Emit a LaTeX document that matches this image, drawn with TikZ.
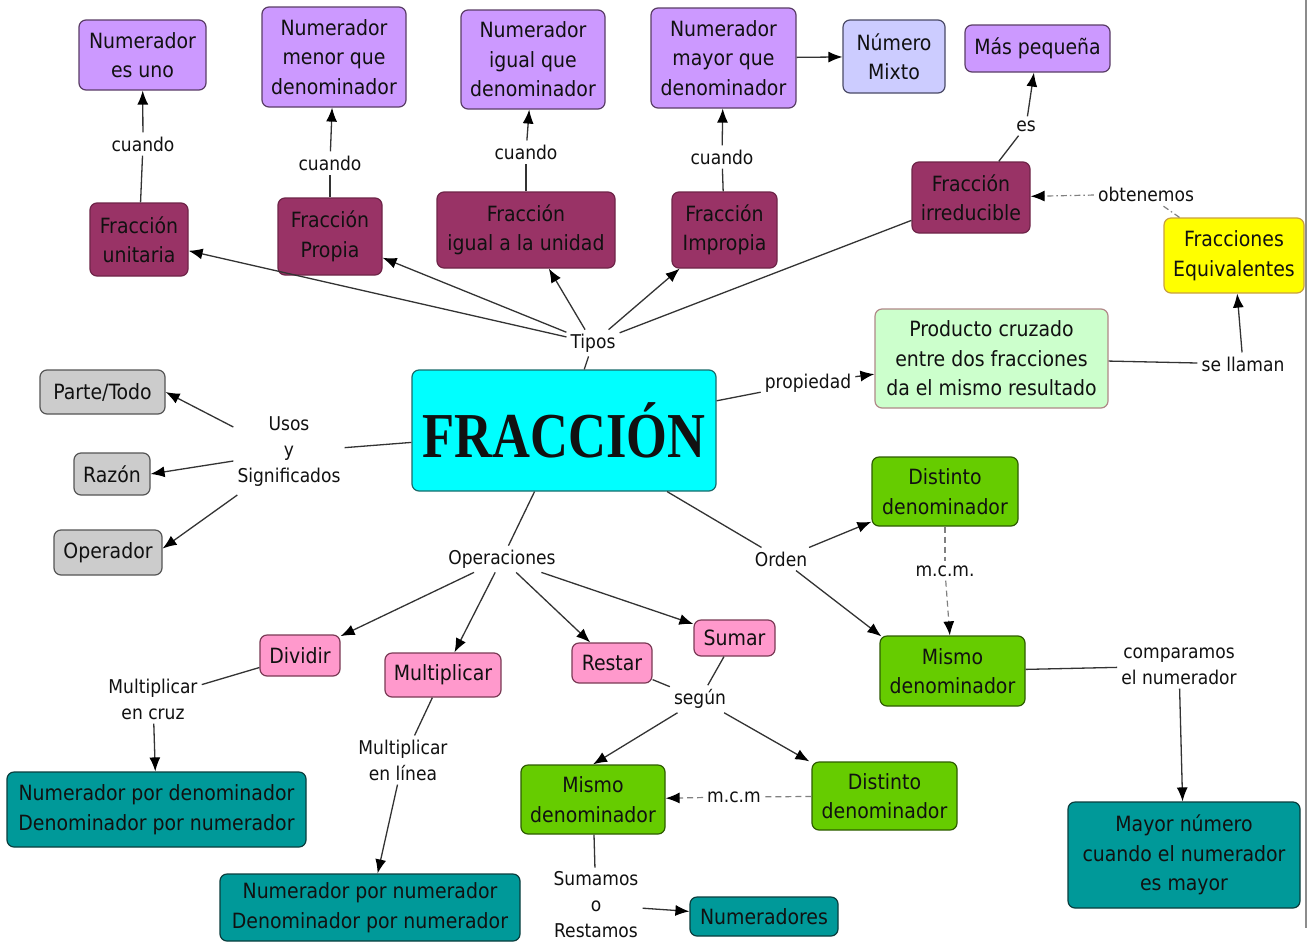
\documentclass[tikz,border=0pt]{standalone}
\usepackage{fontspec}
\usepackage{graphicx}
\setmainfont{DejaVu Sans Condensed}
\newfontfamily\bigserif{Liberation Serif}
\usetikzlibrary{arrows.meta}
\definecolor{cpurp}{HTML}{CC99FF}
\definecolor{dpurp}{HTML}{5A3D66}
\definecolor{cmag}{HTML}{993366}
\definecolor{dmag}{HTML}{6E2448}
\definecolor{cmix}{HTML}{CCCCFF}
\definecolor{dmix}{HTML}{4A4A66}
\definecolor{cyel}{HTML}{FFFF00}
\definecolor{dyel}{HTML}{C8A040}
\definecolor{clgr}{HTML}{CCFFCC}
\definecolor{dlgr}{HTML}{B08888}
\definecolor{cgry}{HTML}{CCCCCC}
\definecolor{dgry}{HTML}{555555}
\definecolor{cpnk}{HTML}{FF99CC}
\definecolor{dpnk}{HTML}{7A3A55}
\definecolor{cgrn}{HTML}{66CC00}
\definecolor{dgrn}{HTML}{2E5C00}
\definecolor{ctea}{HTML}{009999}
\definecolor{dtea}{HTML}{0A3D3D}
\definecolor{ccya}{HTML}{00FFFF}
\definecolor{dcya}{HTML}{1A6B6B}
\definecolor{txt}{HTML}{111111}
\tikzset{
  box/.style={draw, rounded corners=7pt, line width=1.2pt, align=center, inner sep=0pt,
    font=\fontsize{21}{29.5}\selectfont, text=txt},
  purp/.style={box, fill=cpurp, draw=dpurp},
  mag/.style={box, fill=cmag, draw=dmag},
  mix/.style={box, fill=cmix, draw=dmix},
  yel/.style={box, fill=cyel, draw=dyel},
  lgr/.style={box, fill=clgr, draw=dlgr},
  gry/.style={box, fill=cgry, draw=dgry},
  pnk/.style={box, fill=cpnk, draw=dpnk},
  grn/.style={box, fill=cgrn, draw=dgrn},
  tea/.style={box, fill=ctea, draw=dtea},
  lbl/.style={align=center, inner sep=4pt, font=\fontsize{19}{26}\selectfont, text=txt},
  con/.style={line width=1.3pt, draw=black!80},
  arr/.style={con, -{Latex[length=14pt,width=11pt,color=black]}},
  dsh/.style={line width=1.2pt, draw=black!50, dash pattern=on 6pt off 4pt},
  dsharr/.style={dsh, -{Latex[length=14pt,width=11pt,color=black]}},
  dshdot/.style={line width=1.2pt, draw=black!50, dash pattern=on 6pt off 3pt on 1.5pt off 3pt},
  dshdotarr/.style={dshdot, -{Latex[length=14pt,width=11pt,color=black]}},
}
\begin{document}
\begin{tikzpicture}[x=1pt,y=-1pt]
\useasboundingbox (0,0) rectangle (1308,948);
\fill[white] (0,0) rectangle (1308,948);
\draw[black!45, line width=1.5pt] (1306,0) -- (1306,928);

% top row
\node[purp, minimum width=127, minimum height=70] (esuno) at (142.5,55) {Numerador\\es uno};
\node[purp, minimum width=144, minimum height=100] (menor) at (334,57) {Numerador\\menor que\\denominador};
\node[purp, minimum width=144, minimum height=99] (igual) at (533,59.5) {Numerador\\igual que\\denominador};
\node[purp, minimum width=145, minimum height=100] (mayor) at (723.5,58) {Numerador\\mayor que\\denominador};
\node[mix, minimum width=102, minimum height=73] (mixto) at (894,56.5) {Número\\Mixto};
\node[purp, minimum width=145, minimum height=47] (maspeq) at (1037.5,48.5) {Más pequeña};

% tipos
\node[mag, minimum width=98, minimum height=73] (unitaria) at (139,239.5) {Fracción\\unitaria};
\node[mag, minimum width=104, minimum height=77] (propia) at (330,236.5) {Fracción\\Propia};
\node[mag, minimum width=178, minimum height=76] (unidad) at (526,230) {Fracción\\igual a la unidad};
\node[mag, minimum width=105, minimum height=76] (impropia) at (724.5,230) {Fracción\\Impropia};
\node[mag, minimum width=118, minimum height=71] (irred) at (971,197.5) {Fracción\\irreducible};
\node[yel, minimum width=140, minimum height=75] (equiv) at (1234,255.5) {Fracciones\\Equivalentes};

% center
\node[box, fill=ccya, draw=dcya, minimum width=304, minimum height=121] (fraccion) at (564,430.5)
  {\scalebox{0.82}[1]{\bigserif\bfseries\fontsize{64}{64}\selectfont FRACCIÓN}};
\node[lgr, minimum width=233, minimum height=99] (producto) at (991.5,358.5) {Producto cruzado\\entre dos fracciones\\da el mismo resultado};

% usos
\node[gry, minimum width=125, minimum height=44] (parte) at (102.5,392) {Parte/Todo};
\node[gry, minimum width=76, minimum height=42] (razon) at (112,474) {Razón};
\node[gry, minimum width=108, minimum height=45] (operador) at (108,552.5) {Operador};

% orden
\node[grn, minimum width=146, minimum height=69] (dist1) at (945,491.5) {Distinto\\denominador};
\node[grn, minimum width=145, minimum height=70] (mismo1) at (952.5,671) {Mismo\\denominador};
\node[tea, minimum width=232, minimum height=106] (mayornum) at (1184,855) {Mayor número\\cuando el numerador\\es mayor};

% operaciones
\node[pnk, minimum width=80, minimum height=41] (dividir) at (300,655.5) {Dividir};
\node[pnk, minimum width=116, minimum height=44] (multi) at (443,675) {Multiplicar};
\node[pnk, minimum width=80, minimum height=40] (restar) at (612,663) {Restar};
\node[pnk, minimum width=81, minimum height=36] (sumar) at (734.5,638) {Sumar};
\node[tea, minimum width=299, minimum height=75] (nd) at (156.5,809.5) {Numerador por denominador\\Denominador por numerador};
\node[tea, minimum width=300, minimum height=67] (nn) at (370,907.5) {Numerador por numerador\\Denominador por numerador};
\node[grn, minimum width=144, minimum height=69] (mismo2) at (593,799.5) {Mismo\\denominador};
\node[grn, minimum width=145, minimum height=68] (dist2) at (884.5,796) {Distinto\\denominador};
\node[tea, minimum width=148, minimum height=39] (numeradores) at (764,916.5) {Numeradores};

% labels
\node[lbl] (cuando1) at (143,144) {cuando};
\node[lbl] (cuando2) at (330,163) {cuando};
\node[lbl] (cuando3) at (526,152) {cuando};
\node[lbl] (cuando4) at (722,157) {cuando};
\node[lbl] (es) at (1026,126) {es};
\node[lbl] (obten) at (1146,194) {obtenemos};
\node[lbl] (tipos) at (593,343) {Tipos};
\node[lbl] (propiedad) at (808,383) {propiedad};
\node[lbl] (sellaman) at (1243,364) {se llaman};
\node[lbl] (usos) at (289,452) {Usos\\y\\Significados};
\node[lbl] (operac) at (502,559) {Operaciones};
\node[lbl] (orden) at (781,559) {Orden};
\node[lbl] (mcm1) at (945,571) {m.c.m.};
\node[lbl] (compar) at (1179,666) {comparamos\\el numerador};
\node[lbl] (cruz) at (153,699) {Multiplicar\\en cruz};
\node[lbl] (linea) at (403,760) {Multiplicar\\en línea};
\node[lbl] (segun) at (700,699) {según};
\node[lbl] (mcm2) at (734,797) {m.c.m};
\node[lbl] (sumamos) at (596,905) {Sumamos\\o\\Restamos};

% connectors
\draw[con] (fraccion) -- (tipos);
\draw[arr] (tipos) -- (unitaria);
\draw[arr] (tipos) -- (propia);
\draw[arr] (tipos) -- (unidad);
\draw[arr] (tipos) -- (impropia);
\draw[con] (tipos) -- (irred);
\draw[con] (unitaria) -- (cuando1);
\draw[arr] (cuando1) -- (esuno);
\draw[con] (propia) -- (cuando2);
\draw[arr] (cuando2) -- (menor);
\draw[con] (unidad) -- (cuando3);
\draw[arr] (cuando3) -- (igual);
\draw[con] (impropia) -- (cuando4);
\draw[arr] (cuando4) -- (mayor);
\draw[arr] (mayor) -- (mixto);
\draw[con] (irred) -- (es);
\draw[arr] (es) -- (maspeq);
\draw[dshdot] (equiv) -- (obten);
\draw[dshdotarr] (obten) -- (irred);
\draw[con] (fraccion) -- (propiedad);
\draw[arr] (propiedad) -- (producto);
\draw[con] (producto) -- (sellaman);
\draw[arr] (sellaman) -- (equiv);
\draw[con] (fraccion) -- (usos);
\draw[arr] ([yshift=25pt]usos.west) -- (parte.east);
\draw[arr] ([yshift=-9pt]usos.west) -- (razon.east);
\draw[arr] ([yshift=-43pt,xshift=4pt]usos.west) -- ([yshift=4pt]operador.east);
\draw[con] (fraccion) -- (operac);
\draw[arr] (operac) -- (dividir);
\draw[arr] (operac) -- (multi);
\draw[arr] (operac) -- (restar);
\draw[arr] (operac) -- (sumar);
\draw[con] (fraccion) -- (orden);
\draw[arr] (orden) -- (dist1);
\draw[arr] (orden) -- ([xshift=2pt,yshift=-1pt]mismo1.north west);
\draw[dsh] (dist1) -- (mcm1);
\draw[dsharr] (mcm1) -- (mismo1);
\draw[con] (mismo1) -- (compar);
\draw[arr] (compar) -- (mayornum);
\draw[con] (dividir) -- (cruz);
\draw[arr] (cruz) -- (nd);
\draw[con] (multi) -- (linea);
\draw[arr] (linea) -- (nn);
\draw[con] (restar) -- (segun);
\draw[con] (sumar) -- (segun);
\draw[arr] (segun) -- (mismo2.north);
\draw[arr] (segun) -- ([xshift=-2pt]dist2.north west);
\draw[dsh] (dist2) -- (mcm2);
\draw[dsharr] (mcm2) -- (mismo2);
\draw[con] (mismo2) -- (sumamos);
\draw[arr] (sumamos) -- (numeradores);
\end{tikzpicture}
\end{document}
